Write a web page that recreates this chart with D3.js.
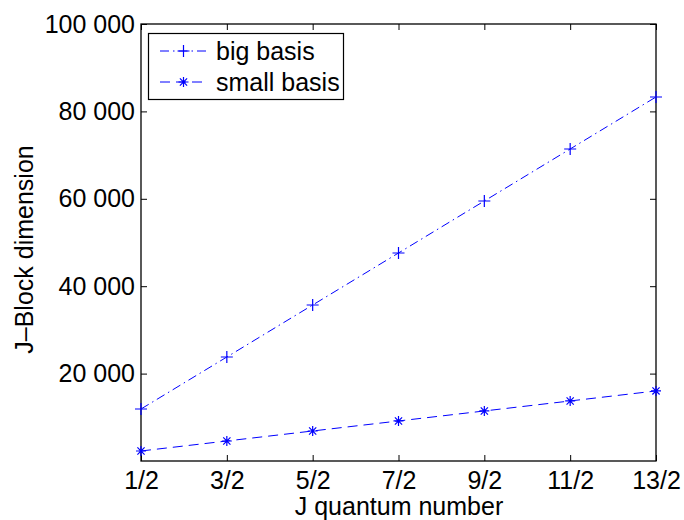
<!DOCTYPE html>
<html>
<head>
<meta charset="utf-8">
<script src="https://cdn.jsdelivr.net/npm/d3@7"></script>
<style>
  html, body { margin: 0; padding: 0; background: #fff; }
  svg { display: block; font-family: "Liberation Sans", Arial, Helvetica, sans-serif; }
</style>
</head>
<body>
<svg id="chart" width="684" height="520"></svg>
<script>
// J quantum numbers and block dimensions
const jLabels = ["1/2", "3/2", "5/2", "7/2", "9/2", "11/2", "13/2"];
const jValues = [0.5, 1.5, 2.5, 3.5, 4.5, 5.5, 6.5];
const bigBasis = [11900, 23800, 35700, 47600, 59500, 71400, 83300];
const smallBasis = [2290, 4580, 6870, 9160, 11450, 13740, 16030];
const yTicks = [20000, 40000, 60000, 80000, 100000];
const yTickLabels = ["20 000", "40 000", "60 000", "80 000", "100 000"];

const svg = d3.select("#chart");
const plotL = 141, plotR = 656, plotT = 24, plotB = 461;
const blue = "#0000ff";
const fontSize = 25;

const x = d3.scaleLinear().domain([0.5, 6.5]).range([plotL, plotR]);
const y = d3.scaleLinear().domain([0, 100000]).range([plotB, plotT]);

// axes box
svg.append("rect").attr("x", plotL).attr("y", plotT)
  .attr("width", plotR - plotL).attr("height", plotB - plotT)
  .attr("fill", "none").attr("stroke", "#000").attr("stroke-width", 1.3);

const fmtX = (d, i) => jLabels[i];
const fmtY = (d, i) => yTickLabels[i];

const xb = svg.append("g").attr("transform", `translate(0,${plotB})`)
  .call(d3.axisBottom(x).tickValues(jValues).tickSize(-6).tickPadding(10).tickFormat(fmtX));
const xt = svg.append("g").attr("transform", `translate(0,${plotT})`)
  .call(d3.axisTop(x).tickValues(jValues).tickSize(-6).tickFormat(""));
const yl = svg.append("g").attr("transform", `translate(${plotL},0)`)
  .call(d3.axisLeft(y).tickValues(yTicks).tickSize(-6).tickPadding(6).tickFormat(fmtY));
const yr = svg.append("g").attr("transform", `translate(${plotR},0)`)
  .call(d3.axisRight(y).tickValues(yTicks).tickSize(-6).tickFormat(""));

[xb, xt, yl, yr].forEach(g => {
  g.select(".domain").remove();
  g.selectAll(".tick line").attr("stroke", "#000").attr("stroke-width", 1);
  g.selectAll(".tick text").attr("fill", "#000").attr("font-size", fontSize)
    .attr("font-family", "'Liberation Sans', Arial, sans-serif");
});

// axis titles
svg.append("text").attr("x", (plotL + plotR) / 2 + 0.5).attr("y", 515)
  .attr("text-anchor", "middle").attr("font-size", fontSize).text("J quantum number");
svg.append("text")
  .attr("transform", `translate(33,${(plotT + plotB) / 2 + 7}) rotate(-90)`)
  .attr("text-anchor", "middle").attr("font-size", fontSize).text("J\u2013Block dimension");

const line = d3.line().x(d => x(d[0])).y(d => y(d[1]));
const bigPts = jValues.map((j, i) => [j, bigBasis[i]]);
const smallPts = jValues.map((j, i) => [j, smallBasis[i]]);

const dashDot = "9,4,1.5,4";
const dashed = "10,6";

svg.append("path").datum(bigPts).attr("d", line)
  .attr("fill", "none").attr("stroke", blue).attr("stroke-width", 1)
  .attr("stroke-dasharray", dashDot);
svg.append("path").datum(smallPts).attr("d", line)
  .attr("fill", "none").attr("stroke", blue).attr("stroke-width", 1)
  .attr("stroke-dasharray", dashed);

// markers
function plus(g, cx, cy, r) {
  g.append("path").attr("d", `M${cx - r},${cy}H${cx + r}M${cx},${cy - r}V${cy + r}`)
    .attr("stroke", blue).attr("stroke-width", 1.2).attr("fill", "none");
}
function star(g, cx, cy, r) {
  const d = r * 0.72;
  g.append("path")
    .attr("d", `M${cx - r},${cy}H${cx + r}M${cx},${cy - r}V${cy + r}` +
      `M${cx - d},${cy - d}L${cx + d},${cy + d}M${cx - d},${cy + d}L${cx + d},${cy - d}`)
    .attr("stroke", blue).attr("stroke-width", 1.2).attr("fill", "none");
}
const mk = svg.append("g");
bigPts.forEach(p => plus(mk, x(p[0]), y(p[1]), 6));
smallPts.forEach(p => star(mk, x(p[0]), y(p[1]), 5));

// legend
const lg = svg.append("g");
lg.append("rect").attr("x", 148.5).attr("y", 33.5).attr("width", 195).attr("height", 66)
  .attr("fill", "#fff").attr("stroke", "#000").attr("stroke-width", 1.2);
const entries = [
  { name: "big basis", dash: dashDot, marker: plus, r: 6, yy: 51 },
  { name: "small basis", dash: dashed, marker: star, r: 5, yy: 82 }
];
entries.forEach(e => {
  lg.append("line").attr("x1", 160).attr("x2", 207).attr("y1", e.yy).attr("y2", e.yy)
    .attr("stroke", blue).attr("stroke-width", 1).attr("stroke-dasharray", e.dash);
  e.marker(lg, 183.5, e.yy, e.r);
  lg.append("text").attr("x", 216).attr("y", e.yy).attr("dy", "0.35em")
    .attr("font-size", fontSize).text(e.name);
});
</script>
</body>
</html>
